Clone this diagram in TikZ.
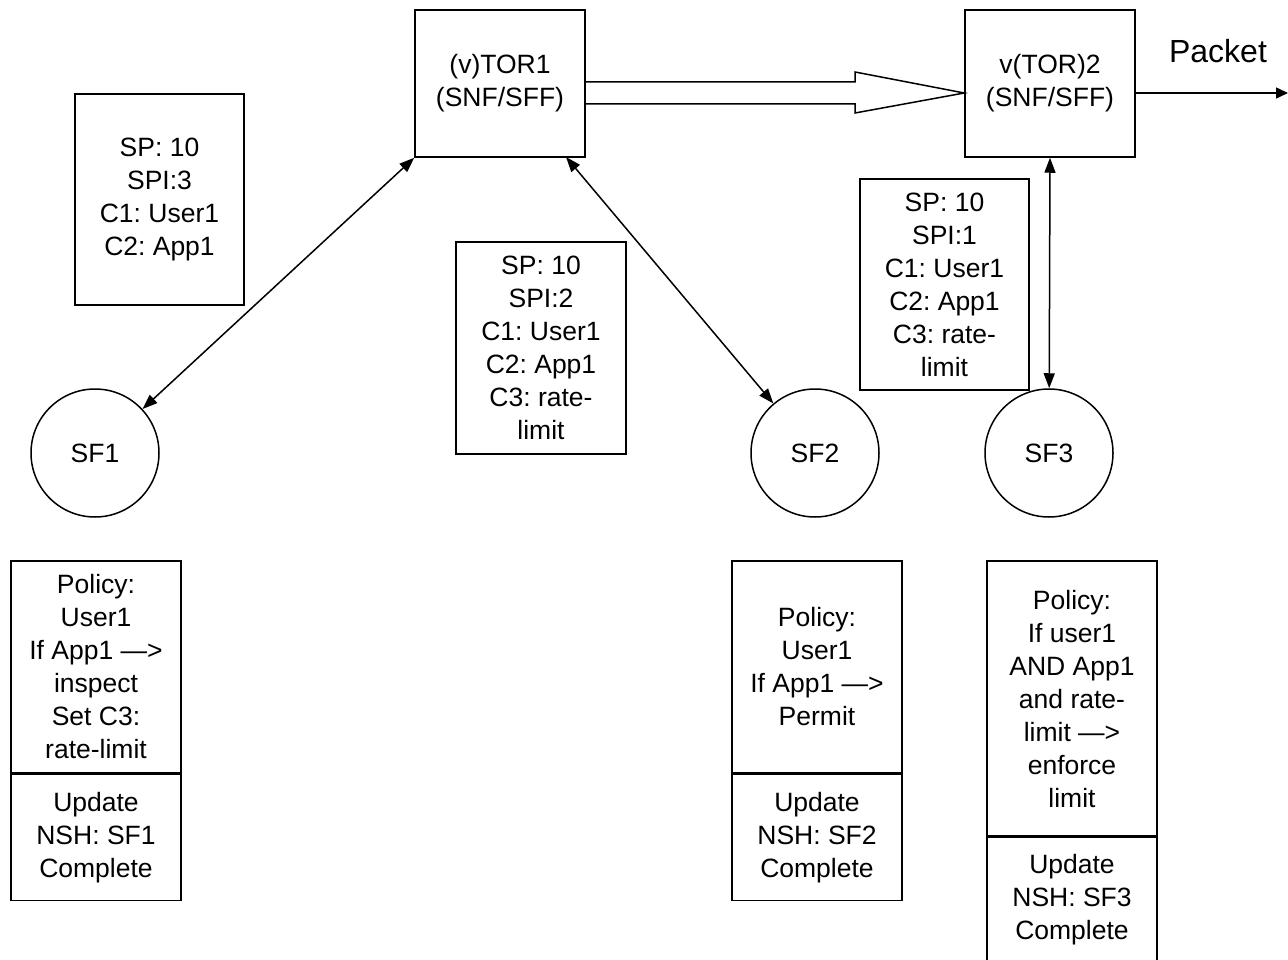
\documentclass[tikz,border=0pt]{standalone}
\usepackage{fontspec}
\setmainfont{Liberation Sans}
\usetikzlibrary{arrows.meta,calc}
\frenchspacing
\begin{document}
\begin{tikzpicture}[x=1pt,y=-1pt,
  every node/.style={font=\fontsize{26.5}{33}\selectfont, align=center, inner sep=0pt},
  box/.style={draw, line width=1.5pt, minimum width=170pt},
  sfc/.style={draw, circle, line width=1.5pt, minimum size=128pt},
  conn/.style={line width=1.5pt, {Triangle[length=15pt,width=11pt]}-{Triangle[length=15pt,width=11pt]}}
]
\useasboundingbox (0,0) rectangle (1288,960);
% TOR nodes
\node[box, minimum height=147pt] (tor1) at (500,83.5) {(v)TOR1\\(SNF/SFF)};
\node[box, minimum height=147pt] (tor2) at (1050,83.5) {v(TOR)2\\(SNF/SFF)};
% info boxes
\node[box, minimum width=169pt, minimum height=211pt] (sp1) at (159.5,199.5) {SP: 10\\SPI:3\\C1: User1\\C2: App1};
\node[box, minimum height=212pt] (sp2) at (541,348) {SP: 10\\SPI:2\\C1: User1\\C2: App1\\C3: rate-\\limit};
\node[box, minimum width=169pt, minimum height=211pt] (sp3) at (944.5,284.5) {SP: 10\\SPI:1\\C1: User1\\C2: App1\\C3: rate-\\limit};
% SF circles
\node[sfc] (sf1) at (95,453) {SF1};
\node[sfc] (sf2) at (815,453) {SF2};
\node[sfc] (sf3) at (1049,453) {SF3};
% policy boxes
\node[box, minimum height=212pt] (p1) at (96,667) {Policy:\\User1\\If App1 ---{}>\\inspect\\Set C3:\\rate-limit};
\node[box, minimum height=126pt, anchor=north] (u1) at (p1.south) {Update\\NSH: SF1\\Complete};
\node[box, minimum height=212pt] (p2) at (817,667) {Policy:\\User1\\If App1 ---{}>\\Permit};
\node[box, minimum height=126pt, anchor=north] (u2) at (p2.south) {Update\\NSH: SF2\\Complete};
\node[box, minimum height=275pt] (p3) at (1072,698.5) {Policy:\\If user1\\AND App1\\and rate-\\limit ---{}>\\enforce\\limit};
\node[box, minimum height=124pt, anchor=north] (u3) at (p3.south) {Update\\NSH: SF3\\Complete};
% connectors
\coordinate (t1b) at (566,157);
\draw[conn] (tor1.south west) -- (sf1);
\draw[conn] (t1b) -- (sf2);
\draw[conn] (tor2.south) -- (sf3);
% hollow arrow
\draw[line width=1.5pt, line join=miter]
  ($(tor1.east)+(0,-1.5)$) -- (855,82) -- (855,72) -- ($(tor2.west)+(0,9.5)$)
  -- (855,113) -- (855,104) -- ($(tor1.east)+(0,20.5)$);
% packet
\coordinate (pk) at (1288,93);
\draw[line width=1.5pt, -{Triangle[length=12pt,width=11pt]}] ($(tor2.east)+(0,9.5)$) -- (pk);
\node[font=\fontsize{32}{38}\selectfont] (pktxt) at (1218,51) {Packet};
\end{tikzpicture}
\end{document}
